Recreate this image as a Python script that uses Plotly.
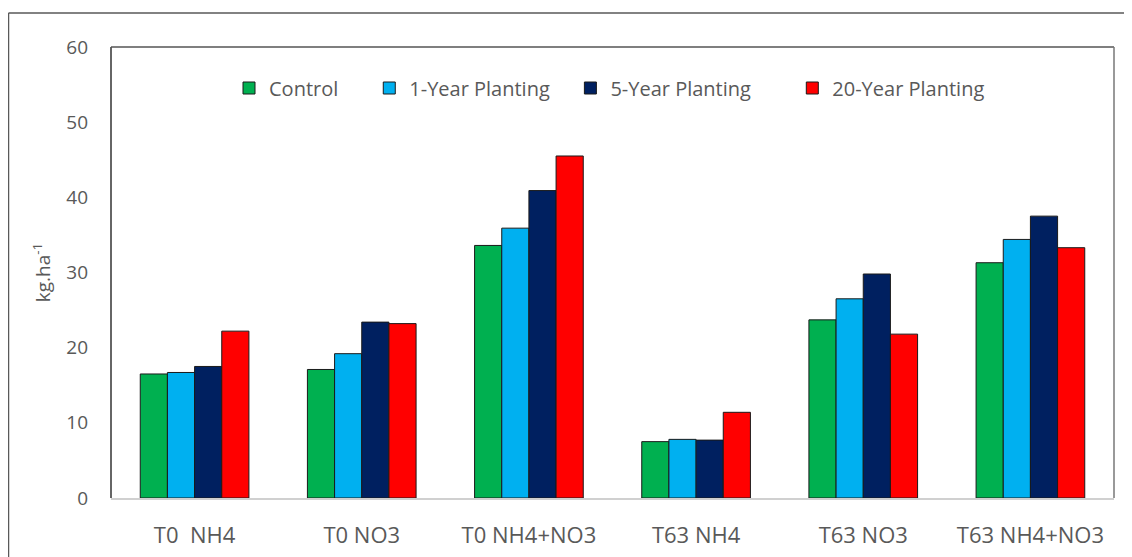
import plotly.graph_objects as go

categories = ["T0  NH4", "T0 NO3", "T0 NH4+NO3", "T63 NH4", "T63 NO3", "T63 NH4+NO3"]
control = [16.5, 17.1, 33.6, 7.5, 23.7, 31.3]
year1 = [16.7, 19.2, 35.9, 7.8, 26.5, 34.4]
year5 = [17.5, 23.4, 40.9, 7.7, 29.8, 37.5]
year20 = [22.2, 23.2, 45.5, 11.4, 21.8, 33.3]

series_names = ["Control", "1-Year Planting", "5-Year Planting", "20-Year Planting"]
series_values = [control, year1, year5, year20]
series_colors = ["#00B050", "#00B0F0", "#002060", "#FF0000"]
legend_pads = [5, 3, 7, 0]

# page is offset by the 8px body margin
OFF = 8
W, H = 1132 - OFF, 557 - OFF
L, R, T, B = 111 - OFF, 1114 - OFF, 47 - OFF, 498 - OFF

fig = go.Figure()
for name, vals, col, pad in zip(series_names, series_values, series_colors, legend_pads):
    fig.add_trace(go.Bar(
        x=categories, y=vals, name=name + "\u00a0" * pad,
        marker=dict(color=col, line=dict(color="#1a1a1a", width=1)),
    ))

pw, ph = R - L, B - T
def px_x(x):
    return (x - OFF - L) / pw
def px_y(y):
    return (B - (y - OFF)) / ph

fig.update_layout(
    width=W, height=H,
    margin=dict(l=L, r=W - R, t=T, b=H - B, pad=0),
    paper_bgcolor="white", plot_bgcolor="white",
    barmode="group", bargap=0.35, bargroupgap=0,
    font=dict(family="Open Sans", color="#595959", size=17),
    showlegend=True,
    legend=dict(
        orientation="h", x=px_x(229), y=px_y(88), yanchor="middle", xanchor="left",
        font=dict(family="Open Sans", size=20, color="#595959"),
        itemwidth=30, tracegroupgap=0, bgcolor="rgba(0,0,0,0)",
    ),
    xaxis=dict(
        showline=True, linecolor="#d0d0d0", linewidth=2,
        ticks="", showgrid=False, automargin=False,
        tickfont=dict(family="Open Sans", size=22, color="#595959"),
        ticklabelstandoff=17,
    ),
    yaxis=dict(
        range=[0, 60], dtick=10, showgrid=False, zeroline=False,
        showline=False, ticks="", automargin=False,
        tickfont=dict(family="Open Sans", size=19, color="#595959"),
        ticklabelstandoff=22,
        title=dict(text="kg.ha<sup>-1</sup>", font=dict(family="Open Sans", size=19, color="#595959"), standoff=10),
    ),
    shapes=[
        # plot area border (left, top, right)
        dict(type="line", xref="paper", yref="paper", x0=0, x1=0, y0=0, y1=1, line=dict(color="#333333", width=1.5)),
        dict(type="line", xref="paper", yref="paper", x0=0, x1=1, y0=1, y1=1, line=dict(color="#555555", width=1.5)),
        dict(type="line", xref="paper", yref="paper", x0=1, x1=1, y0=0, y1=1, line=dict(color="#777777", width=1.5)),
        # outer chart border
        dict(type="line", xref="paper", yref="paper", x0=px_x(8.5), x1=px_x(1140), y0=px_y(13), y1=px_y(13), line=dict(color="#595959", width=1.5)),
        dict(type="line", xref="paper", yref="paper", x0=px_x(8.5), x1=px_x(8.5), y0=px_y(13), y1=px_y(570), line=dict(color="#595959", width=1.5)),
    ],
)

fig.write_html("out.html")
